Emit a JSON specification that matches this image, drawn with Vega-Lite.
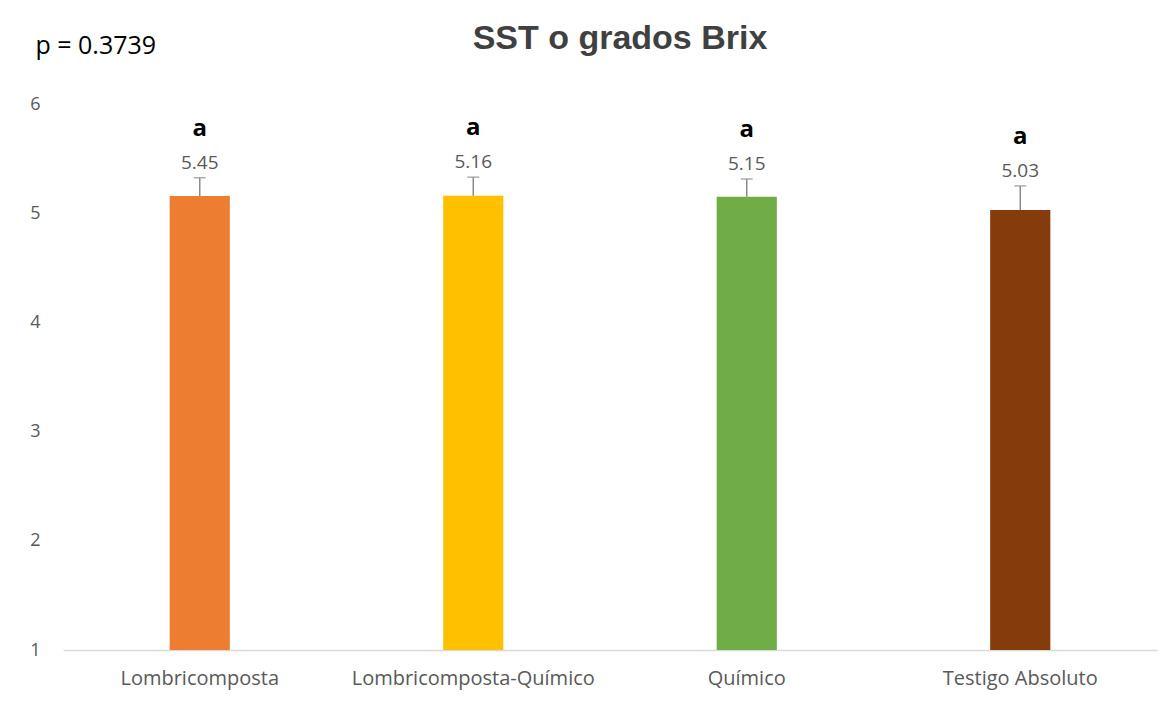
{
  "$schema": "https://vega.github.io/schema/vega-lite/v6.json",
  "width": 1094,
  "height": 546,
  "autosize": {"type": "none"},
  "padding": {"left": 63, "top": 104, "right": 17, "bottom": 54},
  "background": "white",
  "config": {"view": {"stroke": null}},
  "title": {
    "text": "SST o grados Brix",
    "font": "Liberation Sans",
    "fontSize": 34,
    "fontWeight": "bold",
    "color": "#404040",
    "anchor": "middle",
    "frame": "group",
    "baseline": "alphabetic",
    "offset": -50,
    "dx": 10
  },
  "data": {
    "values": [
      {"tratamiento": "Lombricomposta", "value": 5.157, "upper": 5.325, "label": "5.45", "letter": "a"},
      {"tratamiento": "Lombricomposta-Químico", "value": 5.16, "upper": 5.33, "label": "5.16", "letter": "a"},
      {"tratamiento": "Químico", "value": 5.15, "upper": 5.313, "label": "5.15", "letter": "a"},
      {"tratamiento": "Testigo Absoluto", "value": 5.03, "upper": 5.25, "label": "5.03", "letter": "a"}
    ]
  },
  "encoding": {
    "x": {
      "field": "tratamiento",
      "type": "nominal",
      "sort": null,
      "scale": {"paddingInner": 0.78, "paddingOuter": 0.39},
      "axis": {
        "title": null,
        "labelAngle": 0,
        "labelLimit": 0,
        "labelFont": "Open Sans",
        "labelFontSize": 20,
        "labelColor": "#595959",
        "labelPadding": 18,
        "ticks": false,
        "domainColor": "#d9d9d9",
        "domainWidth": 1.5,
        "grid": false
      }
    }
  },
  "layer": [
    {
      "mark": {"type": "bar"},
      "encoding": {
        "y": {
          "field": "value",
          "type": "quantitative",
          "scale": {"domain": [1, 6], "zero": false, "nice": false},
          "axis": {
            "values": [1, 2, 3, 4, 5, 6],
            "format": "d",
            "grid": false,
            "domain": false,
            "ticks": false,
            "labelFont": "Open Sans",
            "labelFontSize": 18,
            "labelColor": "#595959",
            "labelPadding": 23,
            "title": "p = 0.3739",
            "titleAngle": 0,
            "titleX": -28,
            "titleY": -59,
            "titleAlign": "left",
            "titleBaseline": "middle",
            "titleFont": "Open Sans",
            "titleFontSize": 25,
            "titleFontWeight": "normal",
            "titleColor": "#000000"
          }
        },
        "y2": {"datum": 1},
        "color": {
          "field": "tratamiento",
          "type": "nominal",
          "sort": null,
          "scale": {"range": ["#ED7D31", "#FFC000", "#70AD47", "#843C0C"]},
          "legend": null
        }
      }
    },
    {
      "mark": {"type": "rule", "color": "#8c8c8c", "strokeWidth": 1.5},
      "encoding": {
        "y": {"field": "upper", "type": "quantitative"},
        "y2": {"field": "value"}
      }
    },
    {
      "mark": {"type": "tick", "color": "#8c8c8c", "size": 12, "thickness": 1.5},
      "encoding": {
        "y": {"field": "upper", "type": "quantitative"}
      }
    },
    {
      "mark": {"type": "text", "font": "Open Sans", "fontSize": 19, "color": "#595959", "dy": -15, "baseline": "middle"},
      "encoding": {
        "y": {"field": "upper", "type": "quantitative"},
        "text": {"field": "label"}
      }
    },
    {
      "mark": {"type": "text", "font": "Open Sans", "fontSize": 24, "fontWeight": "bold", "color": "#000000", "dy": -49, "baseline": "middle"},
      "encoding": {
        "y": {"field": "upper", "type": "quantitative"},
        "text": {"field": "letter"}
      }
    }
  ]
}
